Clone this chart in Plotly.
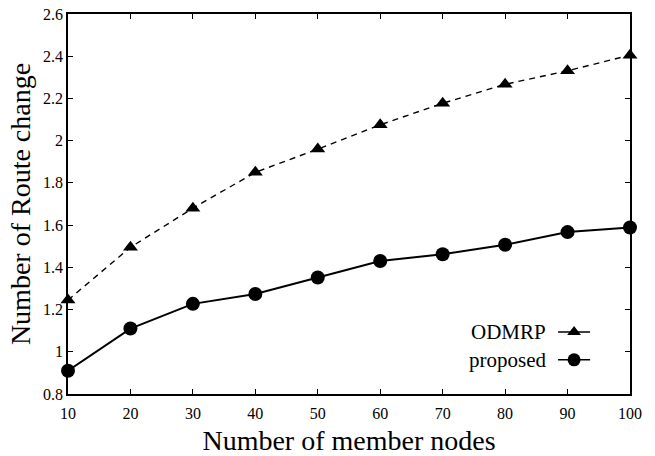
import plotly.graph_objects as go

# Member node counts and the average number of route changes per protocol
member_nodes = [10, 20, 30, 40, 50, 60, 70, 80, 90, 100]
odmrp = [1.245, 1.495, 1.68, 1.85, 1.96, 2.075, 2.177, 2.267, 2.331, 2.405]
proposed = [0.91, 1.11, 1.227, 1.274, 1.352, 1.43, 1.462, 1.507, 1.567, 1.589]

series_names = ["ODMRP", "proposed"]
x_ticks = [10, 20, 30, 40, 50, 60, 70, 80, 90, 100]
y_ticks = [0.8, 1.0, 1.2, 1.4, 1.6, 1.8, 2.0, 2.2, 2.4, 2.6]

FONT = "Liberation Serif, Times New Roman, serif"

fig = go.Figure()

fig.add_trace(go.Scatter(
    x=member_nodes, y=odmrp, name=series_names[0], mode="lines+markers",
    line=dict(color="black", width=1.4, dash="6px,5px"),
    marker=dict(symbol="triangle-up", size=13, color="black"),
    cliponaxis=False, showlegend=False,
))
fig.add_trace(go.Scatter(
    x=member_nodes, y=proposed, name=series_names[1], mode="lines+markers",
    line=dict(color="black", width=2),
    marker=dict(symbol="circle", size=14, color="black"),
    cliponaxis=False, showlegend=False,
))

# Key samples drawn on an overlay axis spanning the plot area (0..1)
key_y = [0.163, 0.09]
key_sym = ["triangle-up", "circle"]
key_size = [12, 13]
for name, ky, sym, sz in zip(series_names, key_y, key_sym, key_size):
    fig.add_trace(go.Scatter(
        x=[0.872, 0.929], y=[ky, ky], mode="lines", xaxis="x2", yaxis="y2",
        line=dict(color="black", width=1.4), showlegend=False, hoverinfo="skip",
    ))
    fig.add_trace(go.Scatter(
        x=[0.9005], y=[ky], mode="markers", xaxis="x2", yaxis="y2",
        marker=dict(symbol=sym, size=sz, color="black"),
        showlegend=False, hoverinfo="skip",
    ))
    fig.add_annotation(
        x=0.854, y=ky, xref="x2", yref="y2", text=name, showarrow=False,
        xanchor="right", yanchor="middle",
        font=dict(family=FONT, size=21, color="black"),
    )

axis_common = dict(
    showline=True, linecolor="black", linewidth=1.5, mirror="ticks",
    ticks="inside", ticklen=5, tickwidth=1, tickcolor="black",
    showgrid=False, zeroline=False, automargin=False,
    tickfont=dict(family=FONT, size=16, color="black"),
)

fig.update_layout(
    width=655, height=456,
    margin=dict(l=68, r=25, t=14, b=62),
    paper_bgcolor="white", plot_bgcolor="white",
    font=dict(family=FONT, color="black"),
    xaxis=dict(
        range=[10, 100], tickmode="array", tickvals=x_ticks,
        ticktext=[str(v) for v in x_ticks], ticklabelstandoff=4,
        title=dict(text="Number of member nodes", font=dict(family=FONT, size=28), standoff=12),
        **axis_common,
    ),
    yaxis=dict(
        range=[0.8, 2.6], tickmode="array", tickvals=y_ticks,
        ticktext=[f"{v:g}" for v in y_ticks],
        title=dict(text="Number of Route change", font=dict(family=FONT, size=28), standoff=4),
        **axis_common,
    ),
    xaxis2=dict(overlaying="x", range=[0, 1], visible=False),
    yaxis2=dict(overlaying="y", range=[0, 1], visible=False),
)

fig.write_html("out.html")
